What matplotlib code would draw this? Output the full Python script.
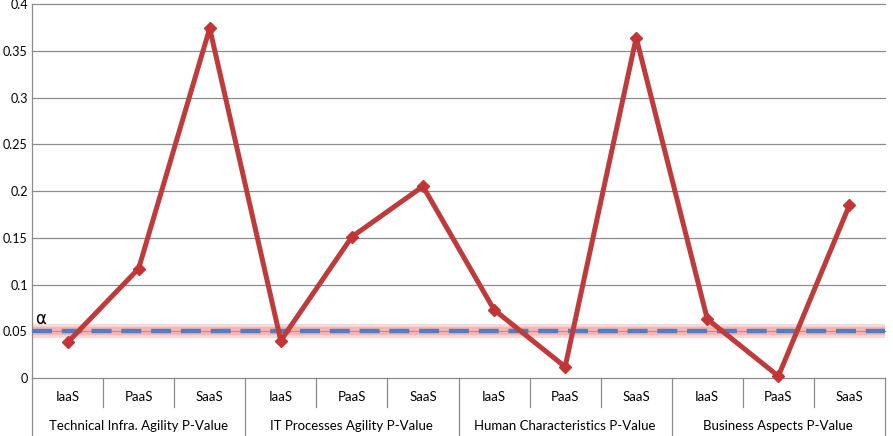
import matplotlib
matplotlib.use("Agg")
import matplotlib.pyplot as plt
import matplotlib.transforms as mtransforms

# values
groups = ["Technical Infra. Agility P-Value", "IT Processes Agility P-Value",
          "Human Characteristics P-Value", "Business Aspects P-Value"]
models = ["IaaS", "PaaS", "SaaS"]
p_values = [0.038, 0.117, 0.374,
            0.040, 0.151, 0.205,
            0.073, 0.012, 0.364,
            0.063, 0.002, 0.185]
alpha_level = 0.05
y_ticks = [0, 0.05, 0.1, 0.15, 0.2, 0.25, 0.3, 0.35, 0.4]
y_tick_labels = ["0", "0.05", "0.1", "0.15", "0.2", "0.25", "0.3", "0.35", "0.4"]

plt.rcParams["font.family"] = ["Lato", "DejaVu Sans"]

W, H = 893, 436
fig = plt.figure(figsize=(W / 100, H / 100), dpi=100)
ax = fig.add_axes([32 / W, (H - 378) / H, (885 - 32) / W, (378 - 4) / H])

n = len(p_values)
x = list(range(n))
ax.set_xlim(-0.5, n - 0.5)
ax.set_ylim(0, 0.4)

# grid
for t in y_ticks:
    ax.axhline(t, color="#8c8c8c", lw=0.9, zorder=0, clip_on=False)
for s in ["top", "right", "bottom"]:
    ax.spines[s].set_visible(False)
ax.spines["left"].set_color("#8c8c8c")
ax.spines["left"].set_linewidth(0.9)

ax.set_yticks(y_ticks)
ax.set_yticklabels(y_tick_labels, fontsize=9)
ax.tick_params(axis="y", length=0, pad=3)
ax.set_xticks([])

# alpha threshold line with soft glow
ax.axhline(alpha_level, color="#f9d4d4", lw=10, alpha=0.9, zorder=2)
ax.axhline(alpha_level, color="#f2aaaa", lw=6, alpha=0.7, zorder=2)
ax.axhline(alpha_level, color="#d98080", lw=0.8, zorder=2)
ax.axhline(alpha_level, color="#4f7fc0", lw=3.2, dashes=(4.5, 2.2), zorder=3)
ax.text(0.004, alpha_level + 0.004, "α",
        transform=mtransforms.blended_transform_factory(ax.transAxes, ax.transData),
        fontsize=12, family="DejaVu Sans", va="bottom", ha="left")

# p-value series
ax.plot(x, p_values, color="#bf3b3b", lw=3.6, marker="D", markersize=6.5,
        markerfacecolor="#c43434", markeredgecolor="#c43434", zorder=4, clip_on=False)

# multi-level category axis
trans = mtransforms.blended_transform_factory(ax.transData, fig.transFigure)
y0 = (H - 378) / H
y_inner = (H - 407) / H
for b in range(n + 1):
    xb = b - 0.5
    y_end = 0 if b % 3 == 0 else y_inner
    ax.plot([xb, xb], [y0, y_end], color="#8c8c8c", lw=0.9, transform=trans, clip_on=False)
for i in range(n):
    ax.text(i, (H - 397) / H, models[i % 3], transform=trans, ha="center", va="center",
            fontsize=9.5)
for g, name in enumerate(groups):
    ax.text(g * 3 + 1, (H - 426) / H, name, transform=trans, ha="center", va="center",
            fontsize=9.5)

fig.savefig("out.png", dpi=100)
